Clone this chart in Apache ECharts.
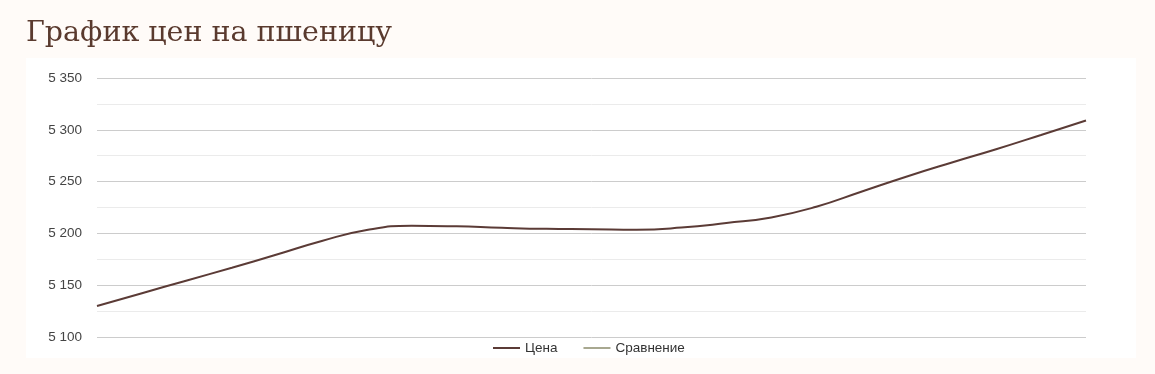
<!DOCTYPE html>
<html>
<head>
<meta charset="utf-8">
<script src="https://cdn.jsdelivr.net/npm/echarts@6/dist/echarts.min.js"></script>
<style>
html,body{margin:0;padding:0;background:#fffbf8;}
#c{width:1155px;height:374px;}
</style>
</head>
<body>
<div id="c"></div>
<script>
const titleText = 'График цен на пшеницу';
const seriesNames = ['Цена', 'Сравнение'];
const categories = ['1','2','3','4','5','6','7','8','9','10','11','12','13','14','15','16','17','18','19','20','21','22','23'];
const priceValues = [5130, 5142.3, 5154.6, 5166.9, 5179.6, 5192.7, 5203.3, 5207.4, 5206.8, 5205.4, 5204.4, 5204.1, 5203.6, 5205.6, 5210, 5215.4, 5225.7, 5240.2, 5254.7, 5268.2, 5281.2, 5295, 5309];
const compareValues = [];
const yTicks = { min: 5100, max: 5350, interval: 50 };

const chart = echarts.init(document.getElementById('c'));
chart.setOption({
  backgroundColor: '#fffbf8',
  animation: false,
  title: {
    text: titleText,
    left: 26, top: 19, padding: 0,
    textStyle: { fontFamily: 'DejaVu Serif', fontWeight: 'normal', fontSize: 28.5, color: '#5a3a2e' }
  },
  graphic: [{
    type: 'rect', z: -10, silent: true,
    shape: { x: 26, y: 58, width: 1110, height: 300 },
    style: { fill: '#ffffff' }
  }],
  legend: {
    data: seriesNames,
    left: 493, top: 341, padding: 0,
    icon: 'rect',
    itemWidth: 27, itemHeight: 2, itemGap: 26,
    textStyle: { fontFamily: 'Liberation Sans', fontSize: 13.5, color: '#333' }
  },
  grid: { left: 97, right: 69, top: 78, bottom: 37 },
  xAxis: {
    type: 'category', data: categories, boundaryGap: false,
    axisLine: { show: false }, axisTick: { show: false }, axisLabel: { show: false },
    splitLine: { show: false }
  },
  yAxis: {
    type: 'value', min: yTicks.min, max: yTicks.max, interval: yTicks.interval,
    axisLine: { show: false }, axisTick: { show: false },
    axisLabel: {
      margin: 15, fontFamily: 'Liberation Sans', fontSize: 13.5, color: '#444',
      formatter: v => String(v).replace(/\B(?=(\d{3})+(?!\d))/g, ' ')
    },
    splitLine: { lineStyle: { color: '#cccccc', width: 1 } },
    minorTick: { show: false, splitNumber: 2 },
    minorSplitLine: { show: true, lineStyle: { color: '#ebebeb', width: 1 } }
  },
  series: [
    { name: seriesNames[0], type: 'line', data: priceValues, smooth: 0.5, symbol: 'none',
      lineStyle: { color: '#5b3b36', width: 2 }, itemStyle: { color: '#5b3b36' } },
    { name: seriesNames[1], type: 'line', data: compareValues, smooth: true, symbol: 'none',
      lineStyle: { color: '#a8a890', width: 2 }, itemStyle: { color: '#a8a890' } }
  ]
});
</script>
</body>
</html>
